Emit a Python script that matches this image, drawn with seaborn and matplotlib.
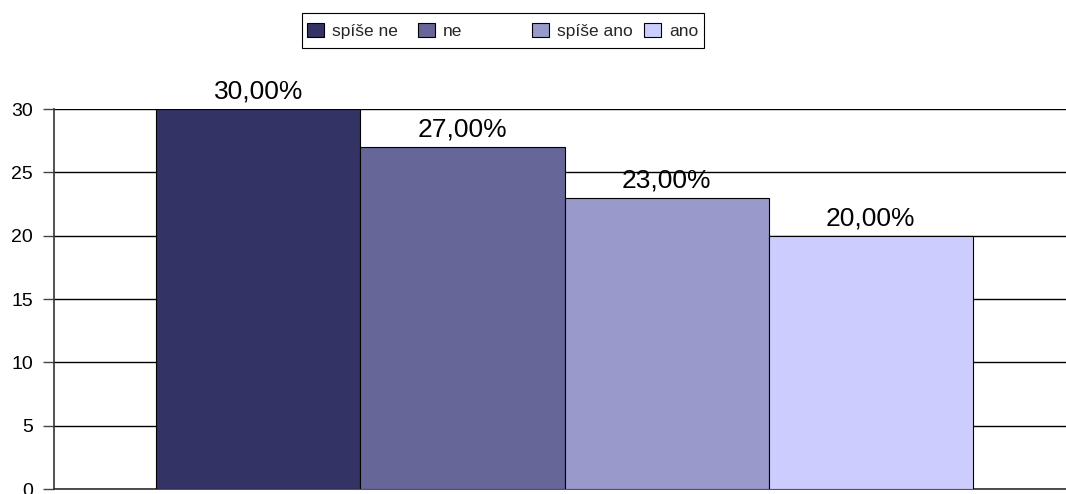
import matplotlib
matplotlib.use("Agg")
import matplotlib.pyplot as plt
from matplotlib.patches import Rectangle
import seaborn as sns
import pandas as pd

answers = ["spíše ne", "ne", "spíše ano", "ano"]
shares = [30, 27, 23, 20]
colors = ["#333366", "#666699", "#9999CC", "#CCCCFF"]
y_ticks = [0, 5, 10, 15, 20, 25, 30]

df = pd.DataFrame({"group": [""] * len(answers), "answer": answers, "share": shares})

sns.set_theme(style="white")
plt.rcParams["font.family"] = ["Liberation Sans", "DejaVu Sans"]

W, H = 1066, 494
fig = plt.figure(figsize=(W / 100, H / 100), dpi=100)
ax = fig.add_axes([54 / W, 5 / H, 1021 / W, 380 / H])

sns.barplot(data=df, x="group", y="share", hue="answer", hue_order=answers,
            palette=colors, width=0.8, dodge=True, edgecolor="black",
            linewidth=0.8, saturation=1, legend=False, ax=ax, zorder=3)

ax.set_xlim(-0.5, 0.5)
ax.set_ylim(0, 30)
ax.set_yticks(y_ticks)
ax.set_xticks([])
ax.set_xlabel("")
ax.set_ylabel("")
ax.yaxis.grid(True, color="black", linewidth=1)
ax.set_axisbelow(True)
ax.tick_params(axis="y", left=True, length=8, width=1, color="#444444",
               labelsize=14, pad=7, labelcolor="black")
for side in ["top", "right"]:
    ax.spines[side].set_visible(False)
for side in ["left", "bottom"]:
    ax.spines[side].set_color("#333333")
    ax.spines[side].set_linewidth(1.2)

for cont in ax.containers:
    ax.bar_label(cont, labels=[f"{v:.2f}".replace(".", ",") + "%" for v in cont.datavalues],
                 fontsize=19, padding=4, color="black")

# Legend: one entry per fixed-width column, inside a shared frame
col_x = [307, 418, 532, 644]
for label, color, x in zip(answers, colors, col_x):
    h = Rectangle((0, 0), 1, 1, facecolor=color, edgecolor="black", linewidth=0.8)
    fig.legend([h], [label], loc="center left", bbox_to_anchor=(x / W, 1 - 31 / H),
               frameon=False, fontsize=12.5, handlelength=1.0, handleheight=0.9,
               handletextpad=0.45, borderpad=0, borderaxespad=0)
fig.patches.append(Rectangle((302 / W, 1 - 48 / H), 402 / W, 35 / H,
                             transform=fig.transFigure, facecolor="none",
                             edgecolor="black", linewidth=0.8))

fig.savefig("out.png", dpi=100, facecolor="white")
